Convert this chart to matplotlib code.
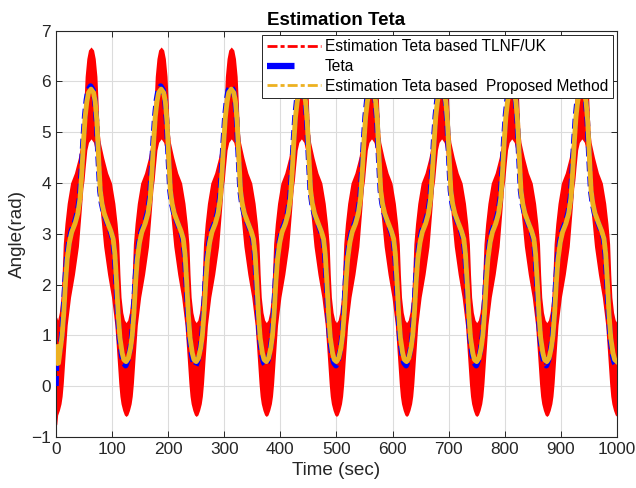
import matplotlib
matplotlib.use("Agg")
import matplotlib.pyplot as plt
from matplotlib.lines import Line2D
import numpy as np

plt.rcParams['font.family'] = ['Liberation Sans', 'DejaVu Sans']

period = 125.0
n_periods = 8

# one period of each curve (time in sec, angle in rad)
prop_t = [0, 4, 8, 11, 14, 17, 20, 24, 28, 34, 39, 43, 46, 49, 52, 55, 58, 62.5,
          67, 70, 73, 76, 79, 82, 86, 92, 98, 102, 105, 108, 111, 114, 118, 121]
prop_v = [0.48, 0.55, 0.75, 1.0, 1.45, 2.05, 2.5, 2.83, 3.03, 3.2, 3.4, 3.7, 4.2, 4.8, 5.3, 5.6, 5.78, 5.85,
          5.78, 5.6, 5.2, 4.5, 3.85, 3.6, 3.4, 3.22, 3.05, 2.9, 2.6, 2.05, 1.4, 0.95, 0.65, 0.52]

teta_t = [0, 3.2, 7.2, 10.2, 13.2, 16.2, 19.2, 23.2, 27.2, 33.2, 38.2, 42.2, 45.2, 48.2, 51.2, 54.2, 57.2, 61.7,
          66.2, 69.2, 72.2, 75.2, 78.2, 81.2, 85.2, 91.2, 97.2, 101.2, 104.2, 107.2, 110.2, 113.2, 117.2, 120.2, 124.2]
teta_v = [0.42, 0.52, 0.73, 0.98, 1.45, 2.07, 2.52, 2.85, 3.05, 3.22, 3.42, 3.72, 4.22, 4.82, 5.32, 5.64, 5.83, 5.91,
          5.83, 5.64, 5.22, 4.5, 3.85, 3.6, 3.4, 3.22, 3.05, 2.9, 2.6, 2.05, 1.4, 0.93, 0.6, 0.46, 0.4]

# TLNF/UK estimate is a fast oscillation, kept as its upper / lower envelope
tlnf_t = [0, 3, 6, 9, 11, 13, 16, 20, 26, 33, 40, 45, 48, 50, 52, 55, 58, 62.5,
          67, 70, 73, 75, 77, 79, 85, 92, 99, 105, 109, 112, 114, 116, 119, 122]
tlnf_hi = [1.25, 1.3, 1.45, 1.75, 2.2, 2.8, 3.2, 3.6, 4.0, 4.2, 4.5, 4.8, 5.0, 5.6, 6.1, 6.45, 6.62, 6.68,
           6.62, 6.45, 6.1, 5.6, 5.0, 4.8, 4.5, 4.2, 4.0, 3.6, 3.2, 2.8, 2.2, 1.75, 1.45, 1.3]
tlnf_lo = [-0.6, -0.57, -0.48, -0.35, -0.2, 0.05, 0.55, 1.2, 1.75, 2.2, 2.75, 3.45, 3.9, 4.05, 4.3, 4.65, 4.8, 4.87,
           4.8, 4.65, 4.3, 4.05, 3.9, 3.45, 2.75, 2.2, 1.75, 1.2, 0.55, 0.05, -0.2, -0.35, -0.48, -0.57]

# the first seconds differ a little from the later periods
prop_start_t = [0, 1.2, 2.5, 4.5]
prop_start_v = [0.45, 0.6, 0.78, 0.45]
teta_start_t = [0, 1]
teta_start_v = [0.0, 0.5]
tlnf_start_t = [0, 1.5]
tlnf_start_hi = [1.37, 1.35]
tlnf_start_lo = [-0.8, -0.75]


def build(t, v, t0, v0):
    t = np.asarray(t, dtype=float)
    v = np.asarray(v, dtype=float)
    tt = np.concatenate([t + k * period for k in range(n_periods)] + [[n_periods * period]])
    vv = np.concatenate([v] * n_periods + [[v[0]]])
    keep = tt > t0[-1]
    return np.concatenate([t0, tt[keep]]), np.concatenate([v0, vv[keep]])


ot, ov = build(prop_t, prop_v, prop_start_t, prop_start_v)
bt, bv = build(teta_t, teta_v, teta_start_t, teta_start_v)
rt, rhi = build(tlnf_t, tlnf_hi, tlnf_start_t, tlnf_start_hi)
_, rlo = build(tlnf_t, tlnf_lo, tlnf_start_t, tlnf_start_lo)

orange = '#EDB120'
dark = '#262626'

fig, ax = plt.subplots(figsize=(6.36, 4.88), dpi=100)
fig.subplots_adjust(left=0.088, right=0.970, bottom=0.105, top=0.937)

ax.fill_between(rt, rlo, rhi, color='red', lw=0, zorder=2)
ax.plot(bt, bv, color='blue', lw=4.0, dashes=(1.8, 0.9), zorder=3)
ax.plot(ot, ov, color=orange, lw=3.5, zorder=4, solid_joinstyle='round')

ax.set_xlim(0, 1000)
ax.set_ylim(-1, 7)
ax.set_xticks(np.arange(0, 1001, 100))
ax.set_yticks(np.arange(-1, 8, 1))
ax.grid(True, color='#dcdcdc', lw=0.8)
ax.set_axisbelow(True)
ax.tick_params(direction='in', top=True, right=True, length=4, width=0.7,
               labelsize=12.4, colors=dark)
for s in ax.spines.values():
    s.set_color(dark)
    s.set_linewidth(0.8)

ax.set_title('Estimation Teta', fontsize=13.5, fontweight='bold', pad=4)
ax.set_xlabel('Time (sec)', fontsize=13.6, color=dark)
ax.set_ylabel('Angle(rad)', fontsize=13.6, color=dark)

handles = [
    Line2D([], [], color='red', lw=2, dashes=(3.6, 1.1, 1.45, 1.1)),
    Line2D([], [], color='blue', lw=4.5, dashes=(4.4, 20)),
    Line2D([], [], color=orange, lw=2, dashes=(3.6, 1.1, 1.45, 1.1)),
]
labels = ['Estimation Teta based TLNF/UK', 'Teta', 'Estimation Teta based  Proposed Method']
leg = ax.legend(handles, labels, loc='upper right', fontsize=11.2, handlelength=3.5,
                handletextpad=0.25, borderpad=0.3, labelspacing=0.3, borderaxespad=0.25,
                fancybox=False, framealpha=1, edgecolor=dark)
leg.get_frame().set_linewidth(0.7)

fig.savefig('out.png', dpi=100)
